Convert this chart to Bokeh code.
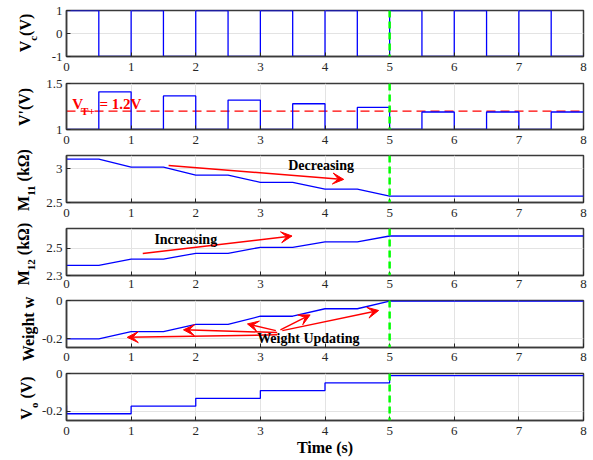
from bokeh.plotting import figure
from bokeh.models import Arrow, VeeHead, Label, FixedTicker, Range1d, Span, Div
from bokeh.layouts import column, row
from bokeh.embed import file_html
from bokeh.resources import INLINE

# ---------------- data ----------------
half_edges = [0, 0.5, 1, 1.5, 2, 2.5, 3, 3.5, 4, 4.5, 5, 5.5, 6, 6.5, 7, 7.5, 8]
vc_levels = [1, -1, 1, -1, 1, -1, 1, -1, 1, -1, 1, -1, 1, -1, 1, -1]
vp_levels = [1, 1.41, 1, 1.365, 1, 1.32, 1, 1.28, 1, 1.24, 1, 1.19, 1, 1.19, 1, 1.19]
vt_plus = 1.2

m_t = [0, 0.5, 1, 1.5, 2, 2.5, 3, 3.5, 4, 4.5, 5, 8]
m11 = [3.147, 3.147, 3.026, 3.026, 2.909, 2.909, 2.80, 2.80, 2.70, 2.70, 2.595, 2.595]
m12 = [2.375, 2.375, 2.42, 2.42, 2.463, 2.463, 2.507, 2.507, 2.547, 2.547, 2.59, 2.59]
weight = [-0.2, -0.2, -0.162, -0.162, -0.124, -0.124, -0.082, -0.082, -0.043, -0.043, -0.003, -0.003]

vo_edges = [0, 1, 2, 3, 4, 5, 6, 7, 8]
vo_levels = [-0.214, -0.174, -0.132, -0.091, -0.05, -0.011, -0.011, -0.011]
vo_start = -0.17

x_ticks = [0, 1, 2, 3, 4, 5, 6, 7, 8]
t_switch = 5

dec_arrow = (1.58, 3.05, 4.29, 2.844)
inc_arrow = (1.18, 2.461, 3.49, 2.59)
wu_start_x = [3.26, 3.26, 3.24, 3.31, 3.34]
wu_start_y = [-0.179, -0.167, -0.157, -0.153, -0.157]
wu_end_x = [0.94, 1.81, 2.80, 3.77, 4.83]
wu_end_y = [-0.192, -0.153, -0.122, -0.075, -0.052]

# ---------------- styling helpers ----------------
FONT = "Liberation Serif"
AX = "#262626"
FRAME = "#3A3A3A"
BLUE = "#0000FF"
RED = "#FF0000"
GREEN = "#00FF00"

DIV_W = 38
LEFT = 28
FRAME_W = 517
RIGHT = 8


def make_fig(top, frame_h, bottom, standoff, yr, yticks, ylabels):
    p = figure(width=LEFT + FRAME_W + RIGHT, height=top + frame_h + bottom,
               output_backend="svg", toolbar_location=None,
               x_range=Range1d(0, 8), y_range=Range1d(*yr),
               min_border_left=LEFT, min_border_right=RIGHT, min_border_top=top,
               min_border_bottom=bottom,
               background_fill_color="white", border_fill_color="white")
    p.outline_line_color = FRAME
    p.outline_line_width = 1.5
    for axes in (p.xaxis, p.yaxis):
        axes.major_tick_in = 4
        axes.major_tick_out = 0
        axes.minor_tick_in = 0
        axes.minor_tick_out = 0
        axes.axis_line_color = FRAME
        axes.axis_line_width = 1.5
        axes.major_tick_line_color = AX
        axes.major_label_text_font = FONT
        axes.major_label_text_font_size = "13px"
        axes.major_label_text_color = AX
    p.xaxis.major_label_standoff = standoff
    p.yaxis.major_label_standoff = 4
    p.xaxis.ticker = FixedTicker(ticks=x_ticks)
    p.yaxis.ticker = FixedTicker(ticks=yticks)
    p.yaxis.major_label_overrides = {t: l for t, l in zip(yticks, ylabels)}
    p.xgrid.ticker = FixedTicker(ticks=x_ticks)
    p.ygrid.ticker = FixedTicker(ticks=yticks)
    p.grid.grid_line_color = "#E3E3E3"
    p.grid.grid_line_width = 1
    p.add_layout(Span(location=t_switch, dimension="height", line_color=GREEN,
                      line_width=2.5, line_dash="7 4", level="overlay"))
    return p


def txt(p, x, y, s, size=14, color="black", align="left", baseline="middle"):
    p.add_layout(Label(x=x, y=y, text=s, text_align=align, text_baseline=baseline,
                       text_font_size=f"{size}px", text_font_style="bold", text_font=FONT,
                       text_color=color))


def red_arrow(p, x0, y0, x1, y1):
    p.add_layout(Arrow(x_start=x0, y_start=y0, x_end=x1, y_end=y1, line_color=RED, line_width=1.5,
                       end=VeeHead(size=11, fill_color=RED, line_color=RED)))


# ---------------- panel 1: Vc ----------------
p1 = make_fig(10, 46, 21, 6, (-1, 1), [-1, 0, 1], ["-1", "0", "1"])
xs, ys = [], []
for i, lev in enumerate(vc_levels):
    xs += [half_edges[i], half_edges[i + 1]]
    ys += [lev, lev]
p1.line(xs, ys, line_color=BLUE, line_width=1.3)

# ---------------- panel 2: V' ----------------
p2 = make_fig(6, 46, 21, 6, (1, 1.5), [1, 1.5], ["1", "1.5"])
p2.line([0, 8], [vt_plus, vt_plus], line_color=RED, line_width=1.3, line_dash="9 5")
xs, ys = [], []
for i, lev in enumerate(vp_levels):
    xs += [half_edges[i], half_edges[i + 1]]
    ys += [lev, lev]
p2.line(xs, ys, line_color=BLUE, line_width=1.3)
txt(p2, 0.09, 1.277, "V", 15, RED, baseline="alphabetic")
txt(p2, 0.225, 1.2, "T+", 11, RED, baseline="alphabetic")
txt(p2, 0.51, 1.277, "= 1.2V", 15, RED, baseline="alphabetic")

# ---------------- panel 3: M11 ----------------
p3 = make_fig(5, 47, 21, 6, (2.5, 3.2), [2.5, 3], ["2.5", "3"])
p3.line(m_t, m11, line_color=BLUE, line_width=1.3)
red_arrow(p3, *dec_arrow)
txt(p3, 3.43, 3.05, "Decreasing", 14)

# ---------------- panel 4: M12 ----------------
p4 = make_fig(5, 47, 19, 4, (2.3, 2.645), [2.3, 2.5], ["2.3", "2.5"])
p4.line(m_t, m12, line_color=BLUE, line_width=1.3)
red_arrow(p4, *inc_arrow)
txt(p4, 1.36, 2.564, "Increasing", 14)

# ---------------- panel 5: weight ----------------
p5 = make_fig(6, 47, 20, 5, (-0.245, 0), [-0.2, 0], ["-0.2", "0"])
p5.line(m_t, weight, line_color=BLUE, line_width=1.3)
for i in range(len(wu_end_x)):
    red_arrow(p5, wu_start_x[i], wu_start_y[i], wu_end_x[i], wu_end_y[i])
txt(p5, 2.95, -0.2, "Weight Updating", 14)

# ---------------- panel 6: Vo ----------------
p6 = make_fig(6, 47, 40, 6, (-0.25, 0), [-0.2, 0], ["-0.2", "0"])
xs, ys = [vo_edges[0]], [vo_start]
for i, lev in enumerate(vo_levels):
    xs += [vo_edges[i], vo_edges[i + 1]]
    ys += [lev, lev]
p6.line(xs, ys, line_color=BLUE, line_width=1.3)
p6.xaxis.axis_label = "Time (s)"
p6.xaxis.axis_label_text_font = FONT
p6.xaxis.axis_label_text_font_size = "16px"
p6.xaxis.axis_label_text_font_style = "bold"
p6.xaxis.axis_label_text_color = "black"
p6.xaxis.axis_label_standoff = 1

# ---------------- y-axis titles (real HTML text with subscripts) ----------------
SUB = '<sub style="font-size:11px;vertical-align:-6px;line-height:11px;">{}</sub>'
ylab_html = ["V" + SUB.format("c") + "(V)",
             "V'(V)",
             "M" + SUB.format("11") + " (kΩ)",
             "M" + SUB.format("12") + " (kΩ)",
             "Weight w",
             "V" + SUB.format("o") + " (V)"]
ylab_cx = [28, 25, 26, 26, 29, 29]
ylab_cy = [32.5, 106.5, 179.5, 253.5, 328.5, 397.5]

spans = ""
for h, cx, cy in zip(ylab_html, ylab_cx, ylab_cy):
    spans += (f'<span style="position:absolute;left:{cx}px;top:{cy}px;'
              f'transform:translate(-50%,-50%) rotate(-90deg);white-space:nowrap;'
              f"font-family:'{FONT}',serif;font-weight:bold;font-size:16px;line-height:16px;"
              f'color:black;display:inline-block;">{h}</span>')
div = Div(text=f'<div style="position:relative;width:{DIV_W}px;height:460px;">{spans}</div>',
          width=DIV_W, height=460, margin=0)

layout = row(div, column(p1, p2, p3, p4, p5, p6, spacing=0), spacing=0)
open("out.html", "w").write(file_html(layout, INLINE))
